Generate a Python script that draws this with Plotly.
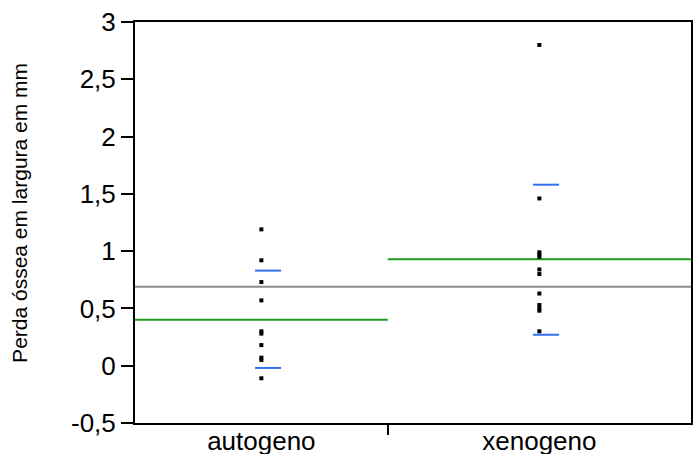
import plotly.graph_objects as go

categories = ["autogeno", "xenogeno"]
autogeno = [1.19, 0.92, 0.73, 0.57, 0.30, 0.28, 0.18, 0.07, 0.05, -0.11]
xenogeno = [2.80, 1.46, 0.99, 0.97, 0.95, 0.84, 0.80, 0.63, 0.53, 0.50, 0.48, 0.30]
group_means = [0.40, 0.93]
overall_mean = 0.69
sd_upper = [0.83, 1.58]
sd_lower = [-0.02, 0.27]
y_ticks = [-0.5, 0, 0.5, 1, 1.5, 2, 2.5, 3]
y_ticklabels = ["-0,5", "0", "0,5", "1", "1,5", "2", "2,5", "3"]

groups = [autogeno, xenogeno]
counts = [len(g) for g in groups]
starts = [0, counts[0]]
ends = [counts[0], counts[0] + counts[1]]
centers = [(s + e) / 2 for s, e in zip(starts, ends)]
total = ends[-1]

fig = go.Figure()

# overall mean
fig.add_trace(go.Scatter(x=[0, total], y=[overall_mean, overall_mean], mode="lines",
                         line=dict(color="#8c8c8c", width=2), hoverinfo="skip", showlegend=False))

for i, g in enumerate(groups):
    fig.add_trace(go.Scatter(x=[starts[i], ends[i]], y=[group_means[i]] * 2, mode="lines",
                             line=dict(color="#1f9a1f", width=2), showlegend=False))
    for v in (sd_upper[i], sd_lower[i]):
        fig.add_trace(go.Scatter(x=[centers[i] - 0.25, centers[i] + 0.78], y=[v, v], mode="lines",
                                 line=dict(color="#2f6ff0", width=2), showlegend=False))
    fig.add_trace(go.Scatter(x=[centers[i]] * len(g), y=g, mode="markers",
                             marker=dict(symbol="square", size=4, color="black"), showlegend=False))

fig.update_layout(
    width=697, height=454,
    margin=dict(l=135, r=6, t=22, b=31),
    plot_bgcolor="white", paper_bgcolor="white",
    separators=",.",
    font=dict(family="Liberation Sans, Arial, sans-serif", color="black"),
)
fig.update_xaxes(range=[0, total], showgrid=False, zeroline=False, automargin=False,
                 showline=True, linecolor="black", linewidth=2, mirror=True,
                 tickvals=centers, ticktext=categories, ticks="",
                 tickfont=dict(size=26), ticklabelstandoff=-6, ticklabeloverflow="allow",
                 minor=dict(tickvals=[counts[0]], ticks="outside", ticklen=10,
                            tickwidth=2, tickcolor="black", showgrid=False))
fig.update_yaxes(range=[-0.5005, 3.0005], showgrid=False, zeroline=False, automargin=False,
                 showline=True, linecolor="black", linewidth=2, mirror=True,
                 tickvals=y_ticks, ticktext=y_ticklabels, ticks="outside", ticklen=12, tickwidth=2,
                 tickcolor="black", tickfont=dict(size=26), ticklabeloverflow="allow")
fig.add_annotation(text="Perda óssea em largura em mm", xref="paper", yref="paper",
                   x=0, y=0.524, xshift=-115, textangle=-90, showarrow=False,
                   xanchor="center", yanchor="middle", font=dict(size=21))

# remove the default 8px body margin so the figure sits at the window origin
fig.write_html("out.html", config={"displayModeBar": False},
               post_script="document.body.style.margin='0px';")
